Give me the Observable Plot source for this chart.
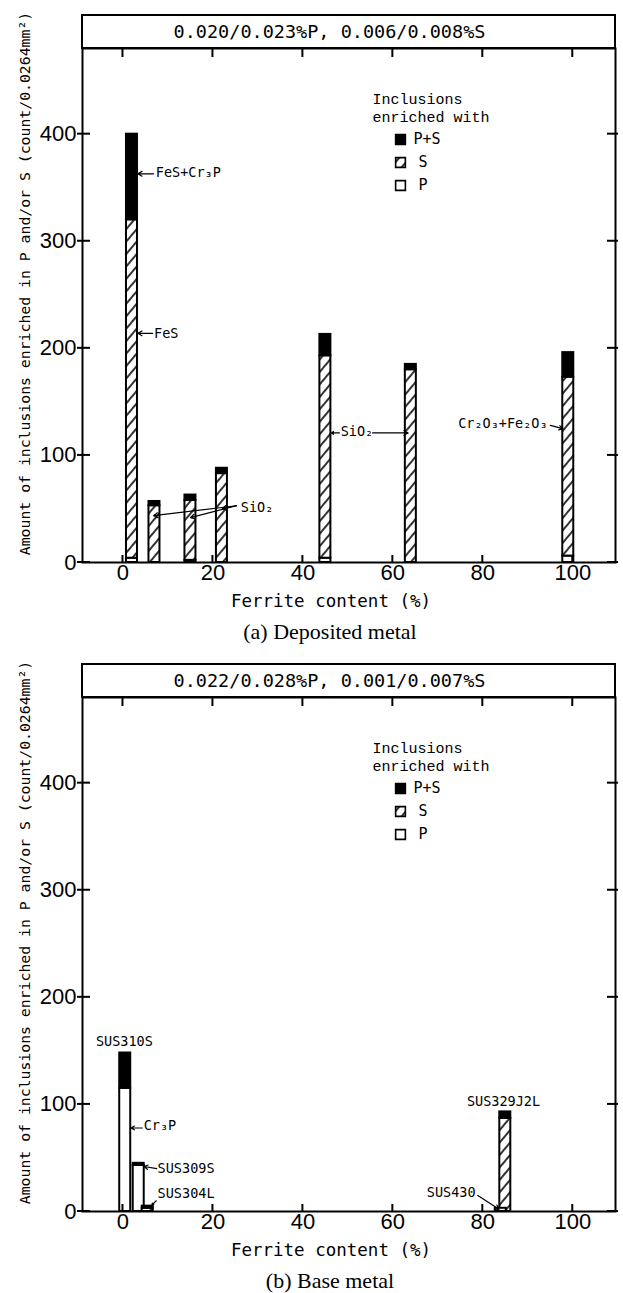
<!DOCTYPE html>
<html><head><meta charset="utf-8">
<script src="https://cdn.jsdelivr.net/npm/d3@7"></script>
<script src="https://cdn.jsdelivr.net/npm/@observablehq/plot@0.6"></script>
<style>
html,body{margin:0;padding:0;background:#fff;overflow:hidden;width:623px}
.cap{font-family:"Liberation Serif",serif;font-size:22px;height:34px;line-height:34px;padding-left:37px;text-align:center;width:586px;color:#000}
</style></head><body>
<svg width="0" height="0" style="position:absolute"><defs>
<pattern id="hatch" patternUnits="userSpaceOnUse" width="8" height="8" patternTransform="rotate(40)">
<rect width="8" height="8" fill="white"/><line x1="4" y1="0" x2="4" y2="8" stroke="black" stroke-width="1.6"/></pattern>
</defs></svg>
<div id="a"></div><div class="cap">(a) Deposited metal</div>
<div id="b"></div><div class="cap">(b) Base metal</div>
<script>
// ---- shared axes ----
const xTicks = [0, 20, 40, 60, 80, 100];
const yTicks = [0, 100, 200, 300, 400];
const xDomain = [-9, 109.5];
const yDomain = [0, 480];
const xLabel = "Ferrite content (%)";
const yLabel = "Amount of inclusions enriched in P and/or S (count/0.0264mm²)";
const stackTypes = ["P", "S", "P+S"];
const legendKeys = ["P+S", "S", "P"];
const legendTitle = "Inclusions\nenriched with";

// ---- (a) Deposited metal ----
const headerA = "0.020/0.023%P, 0.006/0.008%S";
const ferriteA = [2, 7, 15, 22, 45, 64, 99];
const pA  = [4, 0, 2, 0, 4, 0, 6];
const sA  = [316, 53, 56, 83, 189, 180, 167];
const psA = [80, 4, 5, 5, 20, 5, 23];
const labelsA = [
  {text: "FeS+Cr₃P", x: 7.3, y: 364, anchor: "start"},
  {text: "FeS", x: 6.9, y: 214, anchor: "start"},
  {text: "SiO₂", x: 26.2, y: 51, anchor: "start"},
  {text: "SiO₂", x: 48.4, y: 122, anchor: "start"},
  {text: "Cr₂O₃+Fe₂O₃", x: 94.4, y: 130, anchor: "end"}
];
const arrowsA = [
  {x1: 6.8, y1: 363, x2: 3.3, y2: 363},
  {x1: 6.6, y1: 214, x2: 3.3, y2: 214},
  {x1: 25.2, y1: 53, x2: 6.8, y2: 43.7},
  {x1: 25.2, y1: 53, x2: 15.0, y2: 41.9},
  {x1: 25.2, y1: 53, x2: 22.1, y2: 50.2},
  {x1: 48.1, y1: 121, x2: 46.3, y2: 121},
  {x1: 55.5, y1: 121, x2: 63.4, y2: 121},
  {x1: 95.0, y1: 128, x2: 97.8, y2: 125}
];

// ---- (b) Base metal ----
const headerB = "0.022/0.028%P, 0.001/0.007%S";
const gradesB  = ["SUS310S", "SUS309S", "SUS304L", "SUS329J2L", "SUS430"];
const ferriteB = [0.5, 3.5, 5.5, 85, 84];
const pB  = [115, 43, 0, 0, 3];
const sB  = [0, 0, 3, 87, 0];
const psB = [33, 2, 2, 6, 0];
const labelsB = [
  {text: "SUS310S", x: 0.3, y: 159, anchor: "middle"},
  {text: "Cr₃P", x: 4.6, y: 80, anchor: "start"},
  {text: "SUS309S", x: 7.7, y: 40, anchor: "start"},
  {text: "SUS304L", x: 7.7, y: 17, anchor: "start"},
  {text: "SUS430", x: 78.4, y: 18, anchor: "end"},
  {text: "SUS329J2L", x: 84.6, y: 103, anchor: "middle"}
];
const arrowsB = [
  {x1: 4.3, y1: 78, x2: 1.8, y2: 78},
  {x1: 7.5, y1: 40, x2: 4.7, y2: 42},
  {x1: 7.4, y1: 10, x2: 6.4, y2: 6},
  {x1: 78.9, y1: 15, x2: 83.6, y2: 2}
];

const mono = "DejaVu Sans Mono";

function panel(o) {
  const rows = [];
  o.x.forEach((xv, i) => {
    let base = 0;
    [["P", o.p[i]], ["S", o.s[i]], ["P+S", o.ps[i]]].forEach(([type, v]) => {
      if (v > 0) rows.push({x: xv, type, y1: base, y2: base + v});
      base += v;
    });
  });
  const decor = (index, scales, values, dims) => {
    const {x, y} = scales;
    const x0 = dims.marginLeft, x1 = dims.width - dims.marginRight;
    const y0 = dims.marginTop, y1 = dims.height - dims.marginBottom;
    const g = d3.create("svg:g").attr("stroke", "black").attr("stroke-width", 2);
    g.append("rect").attr("x", x0).attr("y", y0 - 33).attr("width", x1 - x0).attr("height", 33).attr("fill", "none");
    g.append("text").attr("x", (x0 + x1) / 2 - 19).attr("y", y0 - 16.5)
      .attr("stroke", "none").attr("fill", "black").attr("text-anchor", "middle")
      .attr("dominant-baseline", "central").attr("font-family", mono).attr("font-size", 18.5)
      .text(o.header);
    for (const t of xTicks) {
      const px = x(t);
      g.append("line").attr("x1", px).attr("x2", px).attr("y1", y0).attr("y2", y0 + 9);
      g.append("line").attr("x1", px).attr("x2", px).attr("y1", y1).attr("y2", y1 - 7);
    }
    for (const t of yTicks) {
      const py = y(t);
      g.append("line").attr("x1", x0 - 5).attr("x2", x0 + 8).attr("y1", py).attr("y2", py);
      g.append("line").attr("x1", x1 - 8).attr("x2", x1 + 3).attr("y1", py).attr("y2", py);
    }
    return g.node();
  };
  const legendMarks = legendKeys.flatMap((k, i) => [
    Plot.dot([k], {x: null, y: null, frameAnchor: "top-left", dx: 318, dy: 91 + i * 23,
      symbol: "square", r: 5.5, fill: d => d, stroke: "black", strokeWidth: 1.6}),
    Plot.text([k], {frameAnchor: "top-left", dx: i === 0 ? 331 : 336, dy: 91 + i * 23,
      text: d => d, textAnchor: "start", lineAnchor: "middle", fontFamily: mono, fontSize: 15})
  ]);
  const textOpts = {x: "x", y: "y", text: "text", fontFamily: mono, fontSize: 13.5, lineAnchor: "middle", fill: "black"};
  return Plot.plot({
    width: 623, height: 615,
    marginTop: 48, marginBottom: 53, marginLeft: 82, marginRight: 8,
    x: {domain: xDomain},
    y: {domain: yDomain},
    color: {domain: stackTypes, range: ["white", "url(#hatch)", "black"]},
    style: {background: "white", overflow: "visible", color: "black"},
    marks: [
      Plot.rect(rows, {x1: "x", x2: "x", y1: "y1", y2: "y2", fill: "type", stroke: "black", strokeWidth: 2, insetLeft: -5.5, insetRight: -5.5}),
      Plot.frame({stroke: "black", strokeWidth: 2}),
      Plot.axisX(xTicks, {tickSize: 0, tickPadding: 2, fontSize: 22, fontFamily: "Liberation Sans", label: null}),
      Plot.axisY(yTicks, {tickSize: 0, tickPadding: 6, fontSize: 22, fontFamily: "Liberation Sans", label: null}),
      decor,
      Plot.text([yLabel], {text: d => d, frameAnchor: "left", textAnchor: "middle", lineAnchor: "middle", rotate: -90, dx: -57, dy: -22, fontFamily: mono, fontSize: 14.8}),
      Plot.text([xLabel], {text: d => d, frameAnchor: "bottom", textAnchor: "middle", lineAnchor: "middle", dx: -18, dy: 39, fontFamily: mono, fontSize: 17.5}),
      Plot.text([legendTitle], {text: d => d, frameAnchor: "top-left", dx: 290, dy: 43, textAnchor: "start", lineAnchor: "top", lineHeight: 1.2, fontFamily: "Liberation Mono", fontSize: 15}),
      ...legendMarks,
      Plot.text(o.labels, {...textOpts, filter: d => d.anchor === "start", textAnchor: "start"}),
      Plot.text(o.labels, {...textOpts, filter: d => d.anchor === "end", textAnchor: "end"}),
      Plot.text(o.labels, {...textOpts, filter: d => d.anchor === "middle", textAnchor: "middle"}),
      Plot.arrow(o.arrows, {x1: "x1", y1: "y1", x2: "x2", y2: "y2", stroke: "black", strokeWidth: 1.2, headLength: 6})
    ]
  });
}

document.getElementById("a").append(panel({header: headerA, x: ferriteA, p: pA, s: sA, ps: psA, labels: labelsA, arrows: arrowsA}));
document.getElementById("b").append(panel({header: headerB, x: ferriteB, p: pB, s: sB, ps: psB, labels: labelsB, arrows: arrowsB}));
</script>
</body></html>
